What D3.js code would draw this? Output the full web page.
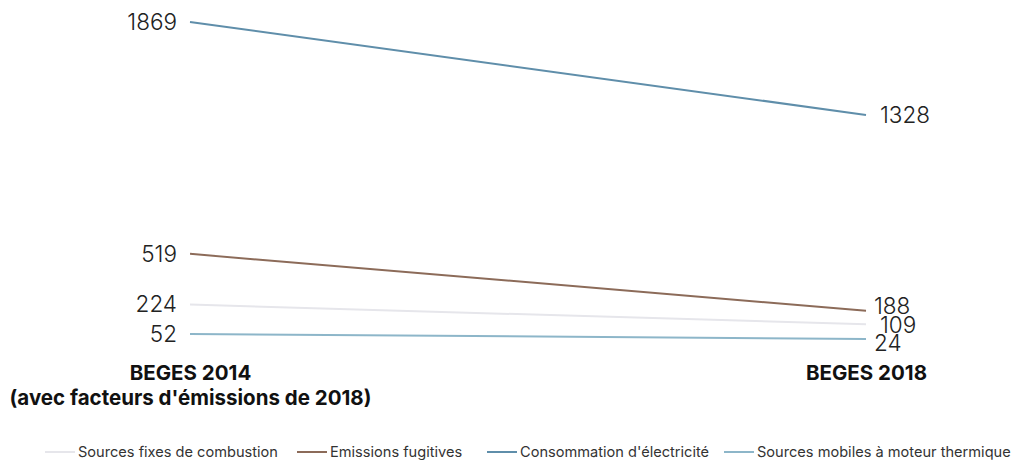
<!DOCTYPE html>
<html><head><meta charset="utf-8">
<script src="https://cdn.jsdelivr.net/npm/d3@7"></script>
<style>body{margin:0;background:#fff}svg{display:block}</style>
</head><body>
<svg id="c" width="1020" height="460"></svg>
<script>
const categories = ["BEGES 2014\n(avec facteurs d'émissions de 2018)", "BEGES 2018"];
const seriesNames = ["Sources fixes de combustion", "Emissions fugitives", "Consommation d'électricité", "Sources mobiles à moteur thermique"];
const fixes = [224, 109];
const fugitives = [519, 188];
const electricite = [1869, 1328];
const mobiles = [52, 24];
const colors = ["#e6e6eb", "#8c6b59", "#5f8eaa", "#8db6c9"];

const series = [fixes, fugitives, electricite, mobiles];
const svg = d3.select("#c");
const font = "Inter, Roboto, sans-serif";
const x = d3.scalePoint().domain(categories).range([190, 866]);
const y = d3.scaleLinear().domain([0, 1869]).range([343, 22]);

const line = d3.line().x((d,i)=>x(categories[i])).y(d=>y(d));
series.forEach((s,k)=>{
  svg.append("path").attr("d", line(s)).attr("fill","none")
    .attr("stroke", colors[k]).attr("stroke-width", 2);
});
const rightDx = [14, 8, 14, 8];
const rightDy = [1, -5, 0, 4];
series.forEach((s,k)=>{
  svg.append("text").attr("x", x(categories[0]) - 13).attr("y", y(s[0]))
    .attr("dy","0.35em").attr("text-anchor","end")
    .attr("font-family",font).attr("font-size",22.5).attr("font-weight",300).attr("fill","#222")
    .text(s[0]);
  svg.append("text").attr("x", x(categories[1]) + rightDx[k]).attr("y", y(s[1]) + rightDy[k])
    .attr("dy","0.35em").attr("text-anchor","start")
    .attr("font-family",font).attr("font-size",22.5).attr("font-weight",300).attr("fill","#222")
    .text(s[1]);
});
const ax = d3.axisBottom(x).tickSize(0).tickFormat("");
const g = svg.append("g").attr("transform","translate(0,360)").call(ax);
g.select(".domain").remove();
g.selectAll(".tick").each(function(d){
  const lines = d.split("\n");
  const t = d3.select(this).append("text").attr("text-anchor","middle")
    .attr("font-family",font).attr("font-size",20.5).attr("font-weight",700).attr("fill","#111");
  lines.forEach((l,i)=>t.append("tspan").attr("x",0).attr("y",20 + i*25).text(l));
});
const legX = [45, 297, 487, 724];
seriesNames.forEach((n,k)=>{
  const lg = svg.append("g").attr("transform",`translate(${legX[k]},452)`);
  lg.append("line").attr("x1",0).attr("x2",30).attr("y1",0).attr("y2",0)
    .attr("stroke",colors[k]).attr("stroke-width",2);
  lg.append("text").attr("x",33).attr("y",0).attr("dy","0.35em")
    .attr("font-family",font).attr("font-size",14.6).attr("fill","#333").text(n);
});
</script>
</body></html>
